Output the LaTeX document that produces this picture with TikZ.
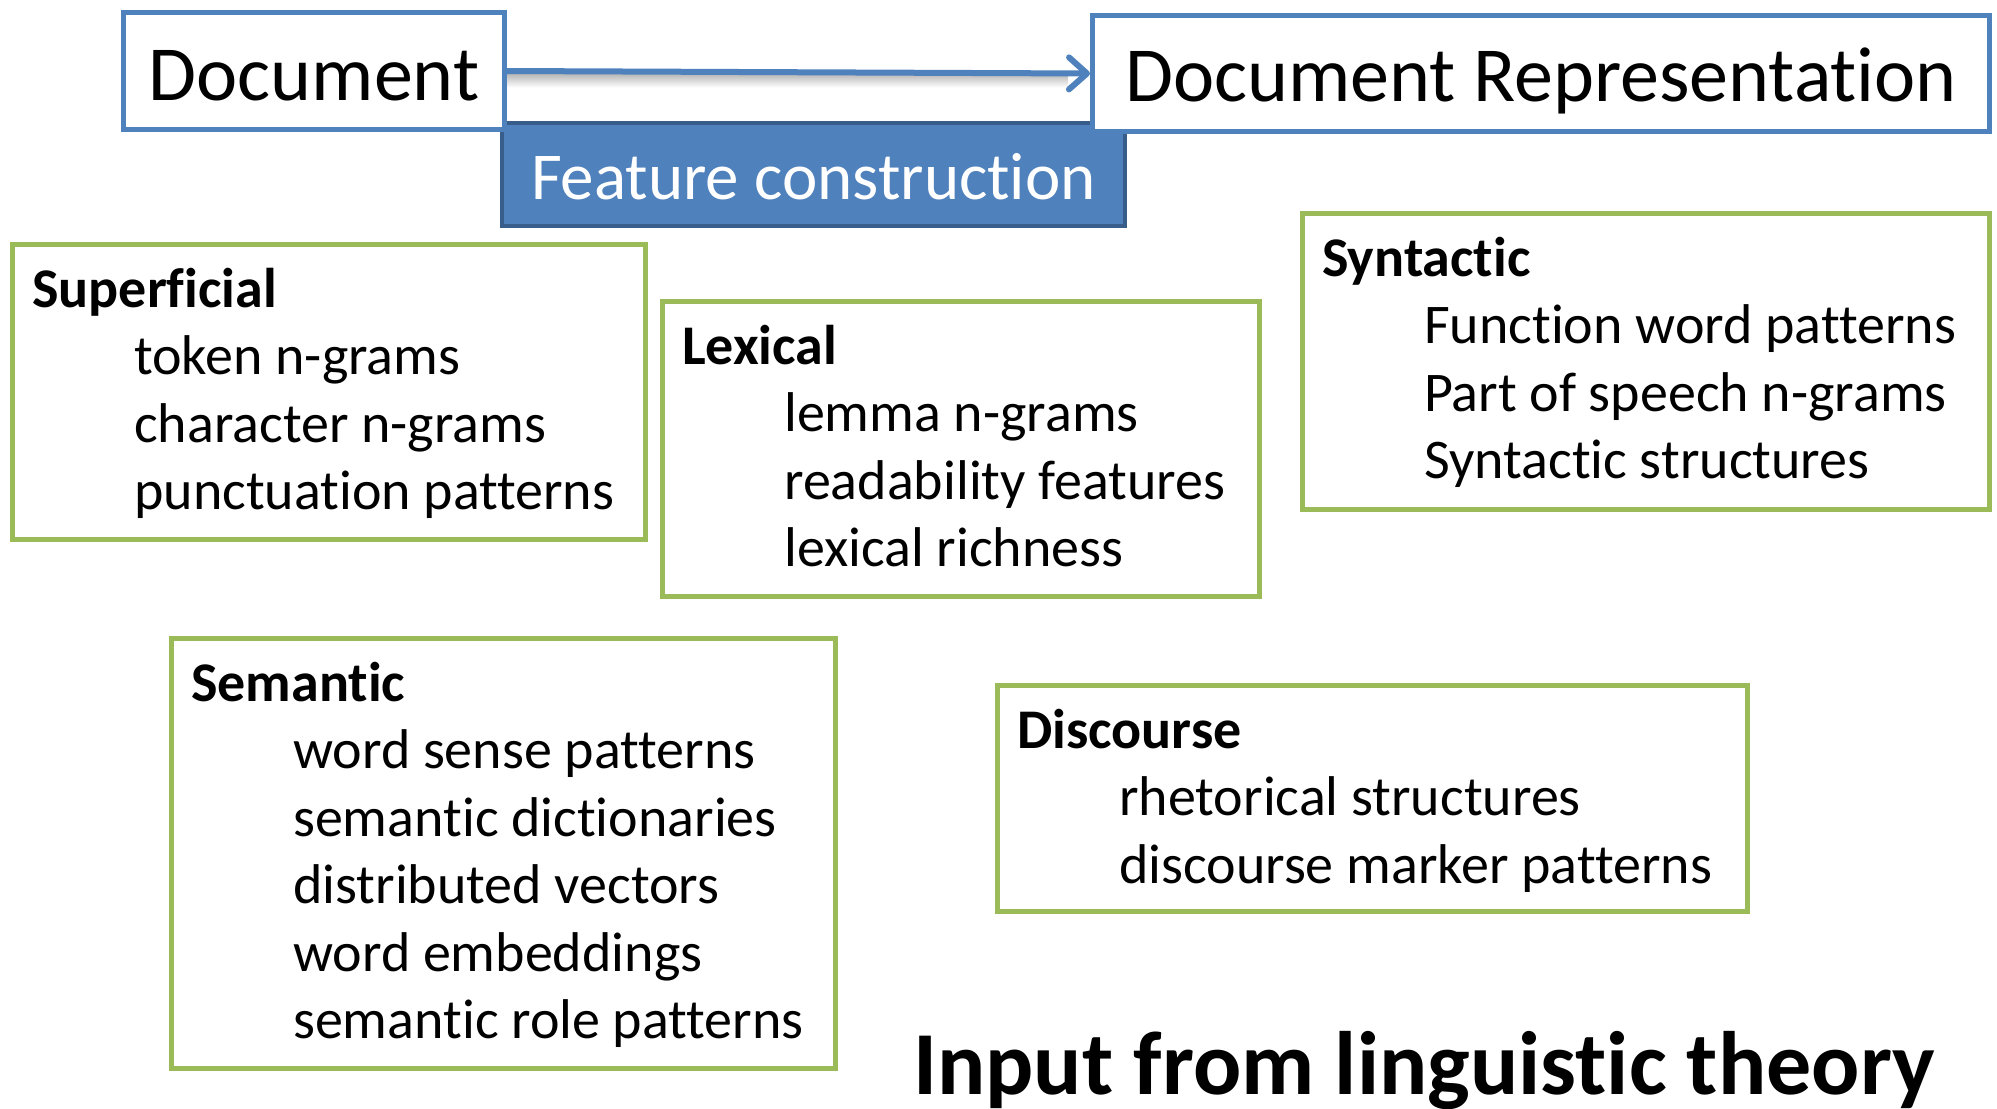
\documentclass[tikz,border=0pt]{standalone}
\usepackage{fontspec}
\setmainfont{Carlito}[RawFeature={-liga;-clig}]
\usetikzlibrary{arrows.meta}
\definecolor{docblue}{HTML}{4F81BD}
\definecolor{docbluedark}{HTML}{385D8A}
\definecolor{featgreen}{HTML}{9BBB59}

\tikzset{
  docbox/.style={draw=docblue, line width=5bp, fill=white, inner sep=0pt,
    anchor=north west, align=center, font=\fontsize{78bp}{90bp}\selectfont},
  constrbox/.style={draw=docbluedark, line width=4bp, fill=docblue, inner sep=0pt,
    anchor=north west, align=center, text=white, font=\fontsize{67bp}{80bp}\selectfont},
  featbox/.style={draw=featgreen, line width=4.5bp, inner sep=0pt, anchor=north west},
  itemtext/.style={anchor=base west, inner sep=0pt, font=\fontsize{56bp}{67bp}\selectfont},
  headtext/.style={anchor=base west, inner sep=0pt, font=\fontsize{56bp}{67bp}\selectfont\bfseries},
}

% header and indented item list of a feature group box
\newcommand\featlist[3]{%
  \node[headtext] (#1-h) at ([shift={(22bp,-65bp)}]#1.north west) {#2};
  \foreach \t [count=\i] in {#3} {
    \node[itemtext] (#1-\i) at ([shift={(124bp,{-65bp-67.5bp*\i})}]#1.north west) {\t};
  }%
}

\begin{document}
\begin{tikzpicture}[x=1bp, y=-1bp]
\useasboundingbox (0,0) rectangle (1997,1108);

% pipeline at the top
\node[constrbox, minimum width=623bp, minimum height=103bp,
      text height=76bp, text depth=27bp] (constr) at (500,121) {Feature construction};
\node[docbox, minimum width=381bp, minimum height=117bp,
      text height=88bp, text depth=29bp] (doc) at (121,10) {Document};
\node[docbox, minimum width=897bp, minimum height=116bp,
      text height=86bp, text depth=30bp] (rep) at (1090,13) {Document Representation};

% soft shadow under the connector, then the connector itself
\shade[top color=black!28, bottom color=white]
  ([yshift=-3bp]doc.east) rectangle ([xshift=-22bp,yshift=-14bp]rep.west);
\draw[docblue, line width=6bp,
      -{Straight Barb[length=18bp, width=32bp, line width=6bp, round]}] (doc.east) -- (rep.west);

% feature groups
\node[featbox, minimum width=633bp, minimum height=295bp] (sup) at (10,242) {};
\featlist{sup}{Superficial}{token n-grams, character n-grams, punctuation patterns}

\node[featbox, minimum width=597bp, minimum height=295bp] (lex) at (660,299) {};
\featlist{lex}{Lexical}{lemma n-grams, readability features, lexical richness}

\node[featbox, minimum width=687bp, minimum height=296bp] (syn) at (1300,211) {};
\featlist{syn}{Syntactic}{Function word patterns, Part of speech n-grams, Syntactic structures}

\node[featbox, minimum width=664bp, minimum height=430bp] (sem) at (169,636) {};
\featlist{sem}{Semantic}{word sense patterns, semantic dictionaries, distributed vectors, word embeddings, semantic role patterns}

\node[featbox, minimum width=750bp, minimum height=226bp] (dis) at (995,683) {};
\featlist{dis}{Discourse}{rhetorical structures, discourse marker patterns}

\node[anchor=base west, inner sep=0pt, font=\fontsize{90bp}{100bp}\selectfont\bfseries]
  (theory) at (913,1094) {Input from linguistic theory};
\end{tikzpicture}
\end{document}
